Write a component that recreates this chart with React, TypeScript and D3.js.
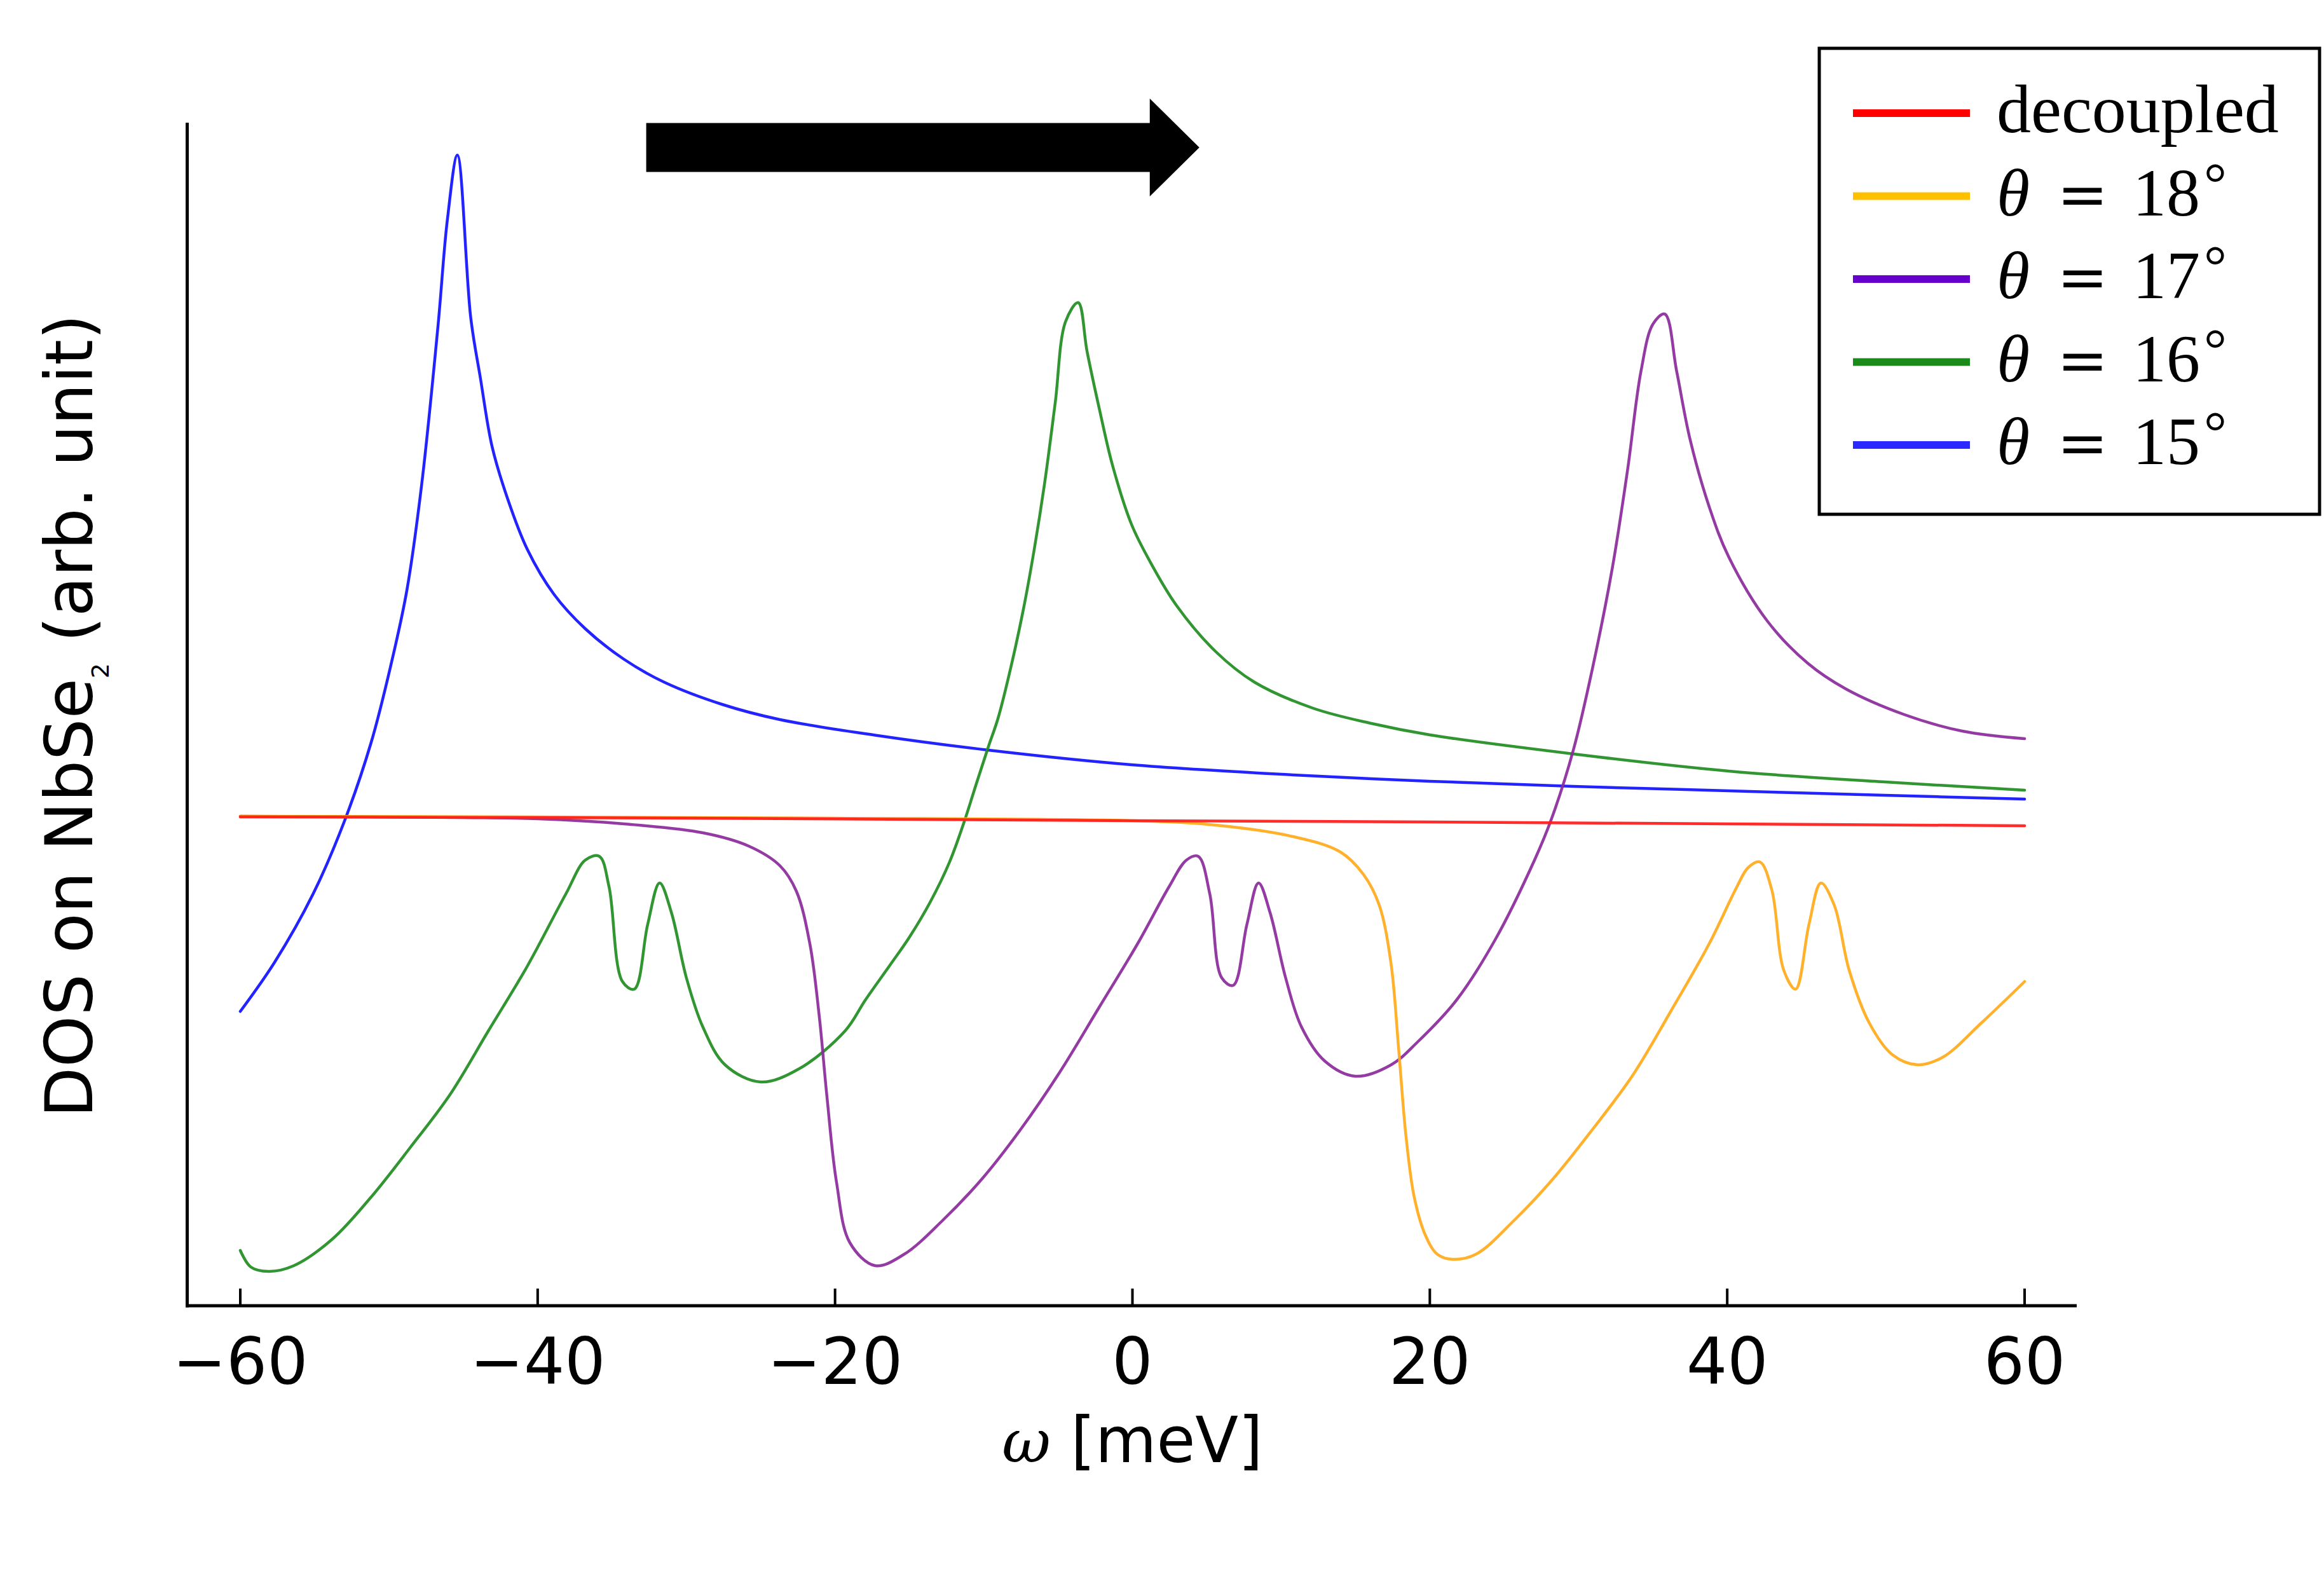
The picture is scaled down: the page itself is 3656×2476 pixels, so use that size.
import React from 'react';
import * as d3 from 'd3';

const W = 3656;
const H = 2476;

// ---------- data (omega in meV, DOS in arbitrary units) ----------
const xTicks = [-60, -40, -20, 0, 20, 40, 60];

const decoupledW = [-60, -30, 0, 20, 40, 60];
const decoupledD = [7.69, 7.67, 7.63, 7.61, 7.58, 7.55];

const theta18W = [-60, -40, -20, 0, 5.6, 10.8, 13.97, 15.55, 16.6, 17.38, 17.9, 18.4, 18.95, 19.7, 20.5, 21.54, 23.1, 25.7, 28.3, 30.96, 33.6, 36.2, 38.8, 40.65, 41.4, 42.2, 43.0, 43.8, 44.6, 45.5, 46.3, 47.2, 48.2, 49.55, 51.1, 52.8, 54.5, 57.1, 60];
const theta18D = [7.70, 7.69, 7.67, 7.63, 7.56, 7.38, 7.14, 6.78, 6.30, 5.40, 4.05, 2.66, 1.71, 1.11, 0.81, 0.73, 0.81, 1.35, 2.0, 2.78, 3.61, 4.63, 5.70, 6.59, 6.89, 6.98, 6.54, 5.28, 4.98, 6.0, 6.65, 6.30, 5.28, 4.45, 3.95, 3.79, 3.91, 4.45, 5.10];

const theta17W = [-60, -45, -40, -34.2, -28.9, -25.8, -23.7, -22.6, -21.7, -21.07, -20.55, -19.9, -19.0, -17.3, -15.35, -12.73, -10.1, -7.5, -4.9, -2.25, 0.36, 2.46, 3.63, 4.42, 5.2, 6.0, 6.78, 7.7, 8.48, 9.26, 10.3, 11.36, 12.93, 15.0, 17.4, 19.18, 21.8, 24.4, 27.04, 28.2, 29.65, 30.96, 32.27, 33.3, 34.2, 35.0, 35.8, 36.6, 37.5, 38.8, 40.1, 42.7, 45.4, 48.0, 51.9, 55.8, 60];
const theta17D = [7.70, 7.68, 7.66, 7.58, 7.44, 7.23, 6.92, 6.52, 5.70, 4.57, 3.3, 1.94, 0.99, 0.63, 0.81, 1.35, 2.0, 2.78, 3.67, 4.69, 5.70, 6.59, 7.01, 7.07, 6.48, 5.16, 5.04, 6.0, 6.65, 6.18, 5.16, 4.39, 3.85, 3.61, 3.79, 4.15, 4.81, 5.76, 7.01, 7.67, 8.74, 10.05, 11.6, 13.15, 14.7, 15.44, 15.6, 14.7, 13.63, 12.56, 11.78, 10.77, 10.11, 9.70, 9.30, 9.04, 8.92];

const theta16W = [-60, -59.3, -58.1, -56.4, -53.8, -51.2, -48.6, -45.9, -43.3, -40.7, -38.1, -36.8, -35.86, -35.2, -34.3, -33.5, -32.6, -31.8, -31.0, -30.0, -28.9, -27.4, -25.0, -22.4, -19.3, -17.96, -16.3, -15.02, -13.6, -12.3, -11.32, -10.46, -9.68, -9.04, -8.18, -7.33, -6.61, -5.9, -5.19, -4.5, -3.65, -3.05, -2.2, -1.34, -0.06, 1.15, 2.98, 5.6, 8.2, 12.14, 16.07, 20, 29.65, 40.1, 50.6, 60];
const theta16D = [0.87, 0.61, 0.54, 0.63, 1.05, 1.71, 2.48, 3.32, 4.33, 5.34, 6.48, 7.01, 7.07, 6.59, 5.10, 4.98, 6.0, 6.65, 6.18, 5.16, 4.39, 3.79, 3.52, 3.73, 4.33, 4.81, 5.36, 5.79, 6.35, 6.98, 7.61, 8.24, 8.80, 9.24, 10.04, 10.96, 11.89, 12.95, 14.21, 15.48, 15.78, 15.01, 14.08, 13.22, 12.29, 11.72, 11.01, 10.29, 9.81, 9.40, 9.16, 8.98, 8.68, 8.41, 8.24, 8.11];

const theta15W = [-60, -57.7, -55.1, -53.0, -51.2, -49.9, -48.8, -47.8, -46.7, -46.07, -45.4, -44.5, -43.85, -43.06, -42.0, -40.7, -38.9, -36.8, -34.2, -31.5, -27.6, -23.7, -17.16, -9.68, -0.06, 10.8, 20, 29.65, 40.1, 50.6, 60];
const theta15D = [4.63, 5.40, 6.48, 7.62, 8.86, 10.05, 11.25, 12.92, 15.42, 17.09, 18.10, 15.54, 14.59, 13.51, 12.68, 11.9, 11.19, 10.65, 10.17, 9.81, 9.46, 9.22, 8.97, 8.74, 8.51, 8.35, 8.25, 8.17, 8.10, 8.03, 7.97];

const legendAngles = ['18', '17', '16', '15'];
const legendColors = ['#ff0000', '#ffc000', '#6600cc', '#1a8a1a', '#2a2aff'];

// arrow annotation in data coordinates (omega start, omega tip, DOS level)
const arrowStartW = -32.7;
const arrowTipW = 4.5;
const arrowLevel = 18.22;

const series = [
  { w: theta15W, d: theta15D, color: '#1010ff' },
  { w: theta16W, d: theta16D, color: '#1f8c1f' },
  { w: theta17W, d: theta17D, color: '#8a2a9a' },
  { w: theta18W, d: theta18D, color: '#ffaa1a' },
  { w: decoupledW, d: decoupledD, color: '#ff1a1a' },
];

export default function App() {
  const x = d3.scaleLinear().domain([-60, 60]).range([378, 3185]);
  const y = d3.scaleLinear().domain([0, 18.6]).range([2054, 194]);
  const line = d3
    .line<[number, number]>()
    .x((p) => x(p[0]))
    .y((p) => y(p[1]))
    .curve(d3.curveCatmullRom.alpha(0.5));

  const axisY = y(0);
  const spineLeft = 294.5;

  // arrow geometry
  const ax0 = x(arrowStartW);
  const ax1 = x(arrowTipW);
  const ay = y(arrowLevel);
  const shaftHalf = 38.5;
  const headHalf = 77;
  const headLen = 78;
  const arrowPath = `M${ax0},${ay - shaftHalf} L${ax1 - headLen},${ay - shaftHalf} L${ax1 - headLen},${ay - headHalf} L${ax1},${ay} L${ax1 - headLen},${ay + headHalf} L${ax1 - headLen},${ay + shaftHalf} L${ax0},${ay + shaftHalf} Z`;

  // legend layout
  const lgX = 2862;
  const lgY = 76;
  const lgW = 787;
  const lgH = 733;
  const rowBase = (i: number) => 208 + i * 130.5;
  const textX = 3141;

  return (
    <svg
      width={W}
      height={H}
      viewBox={`0 0 ${W} ${H}`}
      style={{ position: 'absolute', left: 0, top: 0, background: '#fff' }}
    >
      <rect x={0} y={0} width={W} height={H} fill="#fff" />

      {/* curves */}
      <g fill="none" strokeWidth={4.5} strokeLinejoin="round" strokeLinecap="round">
        {series.map((s, i) => (
          <path
            key={i}
            d={line(s.w.map((v, k) => [v, s.d[k]] as [number, number])) || ''}
            stroke={s.color}
            strokeOpacity={0.92}
          />
        ))}
      </g>

      {/* spines */}
      <line x1={spineLeft} y1={193} x2={spineLeft} y2={axisY + 2.5} stroke="#000" strokeWidth={5} />
      <line x1={292} y1={axisY} x2={3267} y2={axisY} stroke="#000" strokeWidth={5} />

      {/* x ticks (inward) and labels */}
      {xTicks.map((t) => (
        <g key={t}>
          <line x1={x(t)} y1={axisY} x2={x(t)} y2={axisY - 27} stroke="#000" strokeWidth={4} />
          <text
            x={x(t)}
            y={2177}
            textAnchor="middle"
            fontFamily="DejaVu Sans"
            fontSize={101}
            fill="#000"
          >
            {t < 0 ? `\u2212${Math.abs(t)}` : `${t}`}
          </text>
        </g>
      ))}

      {/* x label */}
      <text x={x(0)} y={2300} textAnchor="middle" fontFamily="DejaVu Sans" fontSize={99} fill="#000">
        <tspan fontFamily="DejaVu Serif" fontStyle="italic" fontSize={94}>ω</tspan>
        <tspan> [meV]</tspan>
      </text>

      {/* y label */}
      <text
        transform={`translate(145,1126) rotate(-90)`}
        textAnchor="middle"
        fontFamily="DejaVu Sans"
        fontSize={103}
        fill="#000"
      >
        DOS on NbSe
        <tspan fontSize={38} dy={26}>2</tspan>
        <tspan dy={-26}> (arb. unit)</tspan>
      </text>

      {/* arrow */}
      <path d={arrowPath} fill="#000" />

      {/* legend */}
      <rect x={lgX} y={lgY} width={lgW} height={lgH} fill="#fff" stroke="#000" strokeWidth={5} />
      {legendColors.map((c, i) => (
        <line
          key={i}
          x1={2915}
          x2={3099}
          y1={rowBase(i) - 30}
          y2={rowBase(i) - 30}
          stroke={c}
          strokeWidth={12}
        />
      ))}
      <text x={textX} y={rowBase(0)} fontFamily="Liberation Serif" fontSize={108} fill="#000">
        decoupled
      </text>
      {legendAngles.map((a, i) => (
        <text key={a} y={rowBase(i + 1)} fontFamily="Liberation Serif" fontSize={106} fill="#000">
          <tspan x={textX} fontStyle="italic">θ</tspan>
          <tspan x={3236} fontFamily="DejaVu Serif" fontSize={96}>=</tspan>
          <tspan x={3355}>{a}</tspan>
          <tspan dx={6} dy={-20} fontSize={90}>°</tspan>
        </text>
      ))}
    </svg>
  );
}
